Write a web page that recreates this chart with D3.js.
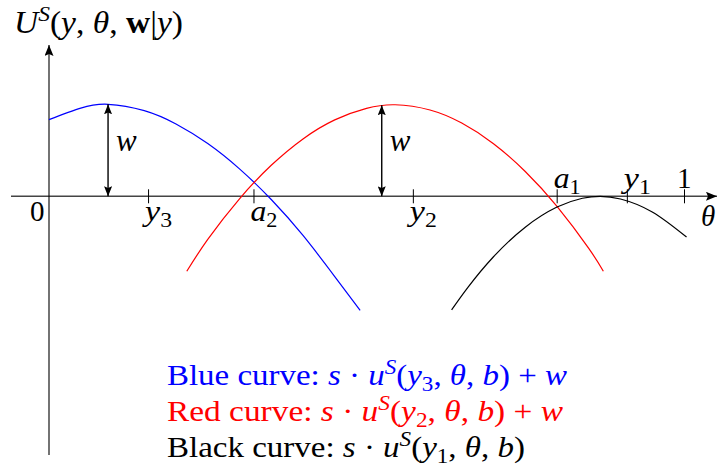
<!DOCTYPE html>
<html>
<head>
<meta charset="utf-8">
<script src="https://cdn.jsdelivr.net/npm/d3@7"></script>
<style>
  html, body { margin: 0; padding: 0; background: #fff; }
  svg { display: block; }
  text { font-family: "Liberation Serif", "DejaVu Serif", serif; }
</style>
</head>
<body>
<svg id="chart" width="718" height="472"></svg>
<script>
// Curve samples: theta position and utility value (in units of w)
const blueTheta  = [0.000, 0.050, 0.093, 0.150, 0.200, 0.250, 0.300, 0.350, 0.400, 0.450, 0.490];
const blueU      = [0.834, 0.959, 1.000, 0.931, 0.786, 0.573, 0.298, -0.035, -0.426, -0.872, -1.240];

const redTheta   = [0.217, 0.250, 0.300, 0.350, 0.400, 0.450, 0.500, 0.545, 0.600, 0.650, 0.700, 0.750, 0.800, 0.850, 0.873];
const redU       = [-0.815, -0.468, -0.027, 0.337, 0.624, 0.831, 0.956, 0.995, 0.938, 0.796, 0.572, 0.270, -0.110, -0.566, -0.815];

const blackTheta = [0.634, 0.660, 0.700, 0.750, 0.800, 0.840, 0.868, 0.900, 0.950, 1.004];
const blackU     = [-1.235, -0.987, -0.657, -0.336, -0.117, -0.021, 0.000, -0.029, -0.170, -0.443];

// Marked points on the theta axis
const tickNames  = ["y3", "a2", "y2", "a1", "y1", "1"];
const tickValues = [0.156, 0.322, 0.573, 0.7995, 0.910, 1.0];
const tickSide   = ["below", "below", "below", "above", "above", "above"];

// The two "w" gaps: theta position and height
const wTheta = [0.093, 0.524];
const wValue = [1.0, 0.99];

const svg = d3.select("#chart");
const x = d3.scaleLinear().domain([0, 1]).range([49, 684]);
const y = d3.scaleLinear().domain([0, 1]).range([196.3, 104.3]);

// arrowheads
const defs = svg.append("defs");
function head(id, len, wid, color) {
  defs.append("marker")
    .attr("id", id).attr("viewBox", `0 ${-wid/2} ${len} ${wid}`)
    .attr("refX", len).attr("refY", 0)
    .attr("markerWidth", len).attr("markerHeight", wid)
    .attr("markerUnits", "userSpaceOnUse")
    .attr("orient", "auto-start-reverse")
    .append("path")
    .attr("d", `M0,${-wid/2} L${len},0 L0,${wid/2} L${len*0.18},0 Z`)
    .attr("fill", color);
}
head("axisHead", 11, 9, "#000");
head("wHead", 10, 8, "#000");

// Math-ish text builder: segments of [text, kind]
function mathText(g, px, py, size, color, segs, width) {
  const t = g.append("text").attr("x", px).attr("y", py)
    .attr("font-size", size).attr("fill", color);
  let shift = 0;
  segs.forEach(([s, k]) => {
    const ts = t.append("tspan").text(s);
    let target = 0;
    if (k === "sup" || k === "supi") target = -size * 0.38;
    if (k === "sub") target = size * 0.2;
    ts.attr("dy", target - shift);
    shift = target;
    if (k === "i" || k === "supi") ts.attr("font-style", "italic");
    if (k === "b") ts.attr("font-weight", "bold");
    if (k === "sup" || k === "supi" || k === "sub") ts.attr("font-size", size * 0.7);
  });
  if (width) t.attr("textLength", width).attr("lengthAdjust", "spacingAndGlyphs");
  return t;
}

// axes
svg.append("line")
  .attr("x1", 11).attr("y1", y(0)).attr("x2", 717).attr("y2", y(0))
  .attr("stroke", "#444").attr("stroke-width", 1.4)
  .attr("marker-end", "url(#axisHead)");
svg.append("line")
  .attr("x1", x(0)).attr("y1", 455).attr("x2", x(0)).attr("y2", 45)
  .attr("stroke", "#000").attr("stroke-width", 1.1)
  .attr("marker-end", "url(#axisHead)");

// ticks through the axis
const axisG = svg.append("g")
  .attr("transform", `translate(0,${y(0) - 7})`)
  .call(d3.axisBottom(x).tickValues(tickValues).tickSize(14).tickFormat(""));
axisG.select(".domain").remove();
axisG.selectAll(".tick line").attr("stroke", "#000").attr("stroke-width", 1);

// tick labels
const fs = 29;
tickNames.forEach((n, i) => {
  const px = x(tickValues[i]);
  const below = tickSide[i] === "below";
  const py = below ? 221 : 188;
  if (n === "1") {
    mathText(svg, px - 7, py, fs, "#000", [["1", "r"]]);
  } else {
    mathText(svg, px - 3, py, fs, "#000", [[n[0], "i"], [n[1], "sub"]], 27);
  }
});
mathText(svg, x(0) - 19, 221, fs, "#000", [["0", "r"]]);
mathText(svg, 701, 226, fs, "#000", [["θ", "i"]]);

// y-axis title
mathText(svg, 14, 33, 31, "#000", [
  ["U", "i"], ["S", "supi"], ["(", "r"], ["y", "i"], [", ", "r"], ["θ", "i"],
  [", ", "r"], ["w", "b"], ["|", "r"], ["y", "i"], [")", "r"]
], 169);

// curves
const line = d3.line().x(d => x(d[0])).y(d => y(d[1])).curve(d3.curveNatural);
const curves = [
  { t: blueTheta, u: blueU, color: "#0000ff" },
  { t: redTheta, u: redU, color: "#ff0000" },
  { t: blackTheta, u: blackU, color: "#000000" }
];
curves.forEach(c => {
  svg.append("path")
    .datum(c.t.map((t, i) => [t, c.u[i]]))
    .attr("d", line)
    .attr("fill", "none")
    .attr("stroke", c.color)
    .attr("stroke-width", 1.2);
});

// w gap arrows
wTheta.forEach((t, i) => {
  svg.append("line")
    .attr("x1", x(t)).attr("y1", y(0)).attr("x2", x(t)).attr("y2", y(wValue[i]))
    .attr("stroke", "#000").attr("stroke-width", 1.4)
    .attr("marker-start", "url(#wHead)").attr("marker-end", "url(#wHead)");
  mathText(svg, x(t) + 8, 151, 31, "#000", [["w", "i"]]);
});

// legend
const lg = svg.append("g");
mathText(lg, 167, 385, 30, "#0000ff", [
  ["Blue curve: ", "r"], ["s", "i"], [" · ", "r"], ["u", "i"], ["S", "supi"],
  ["(", "r"], ["y", "i"], ["3", "sub"], [", ", "r"], ["θ", "i"], [", ", "r"],
  ["b", "i"], [") + ", "r"], ["w", "i"]
], 400);
mathText(lg, 167, 421, 30, "#ff0000", [
  ["Red curve: ", "r"], ["s", "i"], [" · ", "r"], ["u", "i"], ["S", "supi"],
  ["(", "r"], ["y", "i"], ["2", "sub"], [", ", "r"], ["θ", "i"], [", ", "r"],
  ["b", "i"], [") + ", "r"], ["w", "i"]
], 396);
mathText(lg, 167, 457, 30, "#000000", [
  ["Black curve: ", "r"], ["s", "i"], [" · ", "r"], ["u", "i"], ["S", "supi"],
  ["(", "r"], ["y", "i"], ["1", "sub"], [", ", "r"], ["θ", "i"], [", ", "r"],
  ["b", "i"], [")", "r"]
], 358);
</script>
</body>
</html>
